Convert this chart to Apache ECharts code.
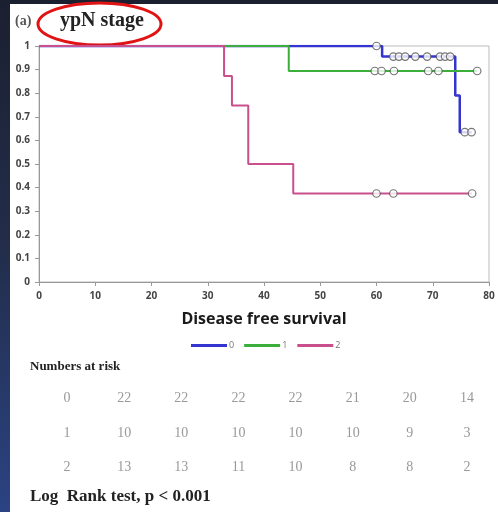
<!DOCTYPE html>
<html>
<head>
<meta charset="utf-8">
<script src="https://cdn.jsdelivr.net/npm/echarts@6/dist/echarts.min.js"></script>
<style>
html, body { margin: 0; padding: 0; width: 498px; height: 512px; overflow: hidden;
  background: linear-gradient(180deg, #1b2030 0%, #232e4c 50%, #2b4383 100%); }
#paper { position: absolute; left: 10px; top: 4px; width: 488px; height: 508px; background: #fff; }
#main { position: absolute; left: 0; top: 0; width: 498px; height: 512px; }
</style>
</head>
<body>
<div id="paper"></div>
<div id="main"></div>
<script>
// KM curves, [time, survival]
var curve0 = [[0, 1], [61, 0.955], [74, 0.79], [74.8, 0.635], [76.9, 0.635]];
var curve1 = [[0, 1], [44.4, 0.894], [77.9, 0.894]];
var curve2 = [[0, 1], [32.9, 0.873], [34.3, 0.748], [37.2, 0.5], [45.2, 0.375], [77, 0.375]];

// censored marks
var cens0 = [[60, 1], [63, 0.955], [64, 0.955], [65.1, 0.955], [66.9, 0.955], [69, 0.955],
             [71.3, 0.955], [72.2, 0.955], [73.1, 0.955], [75.7, 0.635], [76.9, 0.635]];
var cens1 = [[59.7, 0.894], [60.9, 0.894], [63.1, 0.894], [69.2, 0.894], [71, 0.894], [77.9, 0.894]];
var cens2 = [[60, 0.375], [63, 0.375], [77, 0.375]];

var groupNames = ['0', '1', '2'];
var groupColors = ['#3434d0', '#3cae3c', '#c9508c'];

// numbers at risk
var risk0 = [22, 22, 22, 22, 21, 20, 14];
var risk1 = [10, 10, 10, 10, 10, 9, 3];
var risk2 = [13, 13, 11, 10, 8, 8, 2];
var riskRows = [risk0, risk1, risk2];

var riskData = [];
for (var r = 0; r < riskRows.length; r++) {
  riskData.push([0, r, groupNames[r]]);
  for (var c = 0; c < riskRows[r].length; c++) {
    riskData.push([c + 1, r, riskRows[r][c]]);
  }
}

var chart = echarts.init(document.getElementById('main'));

var labelFont = { fontFamily: 'Open Sans', fontWeight: 'bold', fontSize: 10, color: '#444' };

function lineSeries(i, data) {
  return {
    name: groupNames[i],
    type: 'line',
    step: 'end',
    data: data,
    xAxisIndex: 0, yAxisIndex: 0,
    showSymbol: false,
    symbol: 'none',
    animation: false,
    lineStyle: { color: groupColors[i], width: i === 0 ? 2.5 : 2 },
    itemStyle: { color: groupColors[i] },
    z: 2 + i
  };
}
function censSeries(i, data) {
  return {
    name: 'c' + i,
    type: 'scatter',
    data: data,
    xAxisIndex: 0, yAxisIndex: 0,
    symbol: 'circle',
    symbolSize: 7.5,
    animation: false,
    itemStyle: { color: '#fff', borderColor: '#555', borderWidth: 1.2 },
    z: 10
  };
}

var option = {
  backgroundColor: 'transparent',
  animation: false,
  grid: [
    { left: 39, top: 46, width: 450, height: 236, show: true, borderColor: '#bbb', borderWidth: 1, backgroundColor: 'transparent' },
    { left: 38.5, top: 381, width: 457, height: 104 }
  ],
  xAxis: [{
    type: 'value', gridIndex: 0, min: 0, max: 80, interval: 10,
    axisLine: { show: true, lineStyle: { color: '#999' } },
    axisTick: { show: true, length: 4, lineStyle: { color: '#999' } },
    splitLine: { show: false },
    axisLabel: Object.assign({ margin: 9 }, labelFont),
    name: 'Disease free survival',
    nameLocation: 'middle',
    nameGap: 29,
    nameTextStyle: { fontFamily: 'Open Sans', fontWeight: 'bold', fontSize: 16, color: '#1a1a1a' }
  }, {
    type: 'category', gridIndex: 1, data: ['', '', '', '', '', '', '', ''],
    show: false
  }],
  yAxis: [{
    type: 'value', gridIndex: 0, min: 0, max: 1, interval: 0.1,
    axisLine: { show: true, lineStyle: { color: '#999' } },
    axisTick: { show: true, length: 4, lineStyle: { color: '#999' } },
    splitLine: { show: false },
    axisLabel: Object.assign({ margin: 9 }, labelFont)
  }, {
    type: 'category', gridIndex: 1, data: ['', '', ''], inverse: true,
    show: false
  }],
  legend: {
    data: groupNames,
    left: 186, top: 336,
    icon: 'rect', itemWidth: 36, itemHeight: 3, itemGap: 10,
    textStyle: { fontFamily: 'Open Sans', fontSize: 9, color: '#777', padding: [0, 0, 0, -3] }
  },
  series: [
    lineSeries(0, curve0), lineSeries(1, curve1), lineSeries(2, curve2),
    censSeries(0, cens0), censSeries(1, cens1), censSeries(2, cens2),
    {
      name: 'risk',
      type: 'scatter',
      xAxisIndex: 1, yAxisIndex: 1,
      data: riskData,
      symbolSize: 0,
      silent: true,
      label: {
        show: true, position: 'inside',
        formatter: function (p) { return p.value[2]; },
        fontFamily: 'Liberation Serif', fontSize: 14, color: '#808080'
      }
    }
  ],
  graphic: [
    { type: 'text', style: { text: '(a)', x: 15, y: 21, textVerticalAlign: 'middle',
        font: 'bold 14px "Liberation Serif"', fill: '#555' } },
    { type: 'text', style: { text: 'ypN stage', x: 60, y: 21, textVerticalAlign: 'middle',
        font: 'bold 20px "Liberation Serif"', fill: '#222' } },
    { type: 'ellipse', shape: { cx: 99.5, cy: 24, rx: 61.5, ry: 21 },
      style: { fill: 'none', stroke: '#e01414', lineWidth: 3 } },
    { type: 'text', style: { text: 'Numbers at risk', x: 30, y: 367, textVerticalAlign: 'middle',
        font: 'bold 13px "Liberation Serif"', fill: '#222' } },
    { type: 'text', style: { text: 'Log  Rank test, p < 0.001', x: 30, y: 497, textVerticalAlign: 'middle',
        font: 'bold 17px "Liberation Serif"', fill: '#222' } }
  ]
};

chart.setOption(option);
</script>
</body>
</html>
